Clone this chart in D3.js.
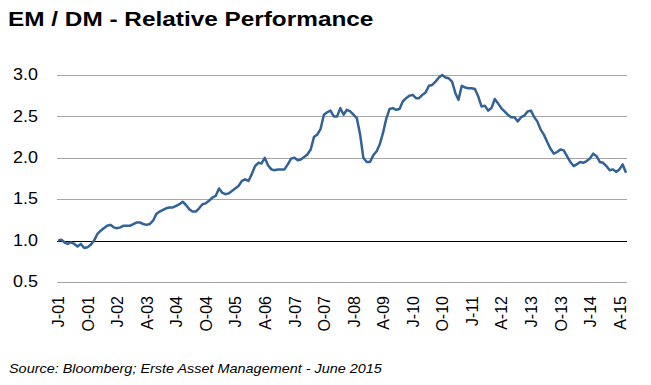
<!DOCTYPE html>
<html>
<head>
<meta charset="utf-8">
<script src="https://cdn.jsdelivr.net/npm/d3@7"></script>
<style>
  body { margin: 0; background: #fff; font-family: Arial, "Liberation Sans", sans-serif; }
  .title { font-weight: bold; font-size: 21px; fill: #000; }
  .source { font-style: italic; font-size: 13px; fill: #000; }
  .axis text { font-size: 16px; fill: #000; }
  .axis path, .axis line { stroke: none; }
</style>
</head>
<body>
<div class="chart"></div>
<script>
var startMonth = new Date(2001, 0, 1),
    endMonth = new Date(2015, 6, 1);

// monthly EM / DM ratio, Jan 2001 .. Jun 2015
var values = [
  1.00, 1.01, 0.98, 0.96, 0.98, 0.96, 0.93, 0.96, 0.91, 0.92, 0.95, 1.00,
  1.08, 1.12, 1.15, 1.18, 1.19, 1.16, 1.15, 1.16, 1.18, 1.18, 1.18, 1.20,
  1.22, 1.22, 1.20, 1.19, 1.20, 1.24, 1.32, 1.35, 1.37, 1.39, 1.40, 1.40,
  1.42, 1.44, 1.47, 1.43, 1.38, 1.35, 1.35, 1.39, 1.44, 1.45, 1.48, 1.52,
  1.54, 1.63, 1.58, 1.56, 1.57, 1.60, 1.63, 1.66, 1.72, 1.74, 1.72, 1.80,
  1.90, 1.94, 1.93, 2.00, 1.91, 1.86, 1.85, 1.86, 1.86, 1.86, 1.92, 1.99,
  2.00, 1.97, 1.98, 2.01, 2.04, 2.10, 2.25, 2.28, 2.35, 2.52, 2.55, 2.57,
  2.50, 2.50, 2.60, 2.52, 2.58, 2.56, 2.52, 2.48, 2.28, 2.00, 1.95, 1.95,
  2.03, 2.08, 2.16, 2.30, 2.47, 2.59, 2.60, 2.58, 2.59, 2.68, 2.72, 2.75,
  2.76, 2.72, 2.72, 2.76, 2.79, 2.87, 2.88, 2.92, 2.97, 3.00, 2.97, 2.96,
  2.92, 2.78, 2.70, 2.87, 2.85, 2.84, 2.84, 2.83, 2.74, 2.62, 2.63, 2.57,
  2.60, 2.71, 2.66, 2.60, 2.56, 2.52, 2.49, 2.49, 2.44, 2.49, 2.51, 2.56,
  2.57, 2.49, 2.44, 2.34, 2.28, 2.19, 2.11, 2.05, 2.07, 2.10, 2.09, 2.02,
  1.95, 1.90, 1.92, 1.95, 1.94, 1.96, 1.99, 2.05, 2.02, 1.95, 1.94, 1.90,
  1.85, 1.86, 1.83, 1.86, 1.92, 1.82
];

var tickLabels = ['J-01', 'O-01', 'J-02', 'A-03', 'J-04', 'O-04', 'J-05', 'A-06', 'J-07', 'O-07',
                  'J-08', 'A-09', 'J-10', 'O-10', 'J-11', 'A-12', 'J-13', 'O-13', 'J-14', 'A-15'];
var yTicks = [0.5, 1.0, 1.5, 2.0, 2.5, 3.0];

var width = 651,
    height = 385,
    margin = {top: 75, right: 24, bottom: 103, left: 57};

var months = d3.timeMonths(startMonth, endMonth);
var data = months.map(function(m, i) { return {date: m, value: values[i]}; });

var x = d3.scaleTime()
          .domain([months[0], months[months.length - 1]])
          .range([margin.left + 1, width - margin.right - 1]);

var y = d3.scaleLinear()
          .domain([0.5, 3.0])
          .range([height - margin.bottom, margin.top]);

var svg = d3.select('.chart')
            .append('svg')
            .attr('width', width)
            .attr('height', height);

// the original picture is a little stretched sideways
svg.append('text')
   .attr('class', 'title')
   .attr('transform', 'translate(8,26) scale(1.16,1)')
   .text('EM / DM - Relative Performance');

// gridlines
svg.append('g')
   .selectAll('line')
   .data(yTicks)
   .enter()
   .append('line')
   .attr('x1', margin.left)
   .attr('x2', width - margin.right)
   .attr('y1', function(d) { return Math.round(y(d)) + 0.5; })
   .attr('y2', function(d) { return Math.round(y(d)) + 0.5; })
   .attr('stroke', function(d) { return d === 1 ? '#000' : '#a6a6a6'; })
   .attr('stroke-width', 1);

// y axis
var yAxis = d3.axisLeft(y)
              .tickValues(yTicks)
              .tickSize(0)
              .tickPadding(17)
              .tickFormat(d3.format('.1f'));

var gy = svg.append('g')
            .attr('class', 'y axis')
            .attr('transform', 'translate(' + margin.left + ',0)')
            .call(yAxis);

gy.selectAll('.tick')
  .attr('transform', function(d) { return 'translate(0,' + y(d) + ') scale(1.12,1)'; });

// x axis, a label every 9 months
var tickDates = tickLabels.map(function(d, i) { return months[i * 9]; });

var xAxis = d3.axisBottom(x)
              .tickValues(tickDates)
              .tickSize(0)
              .tickFormat(function(d, i) { return tickLabels[i]; });

var gx = svg.append('g')
            .attr('class', 'x axis')
            .attr('transform', 'translate(0,' + (height - margin.bottom) + ')')
            .call(xAxis);

gx.selectAll('text')
  .attr('transform', 'rotate(-90)')
  .attr('x', -14)
  .attr('y', 0)
  .attr('dy', '0.35em')
  .style('text-anchor', 'end');

var line = d3.line()
             .x(function(d) { return x(d.date); })
             .y(function(d) { return y(d.value); });

svg.append('path')
   .datum(data)
   .attr('fill', 'none')
   .attr('stroke', '#336295')
   .attr('stroke-width', 2.5)
   .attr('stroke-linejoin', 'round')
   .attr('d', line);

svg.append('text')
   .attr('class', 'source')
   .attr('transform', 'translate(9,373) scale(1.11,1)')
   .text('Source: Bloomberg; Erste Asset Management - June 2015');
</script>
</body>
</html>
